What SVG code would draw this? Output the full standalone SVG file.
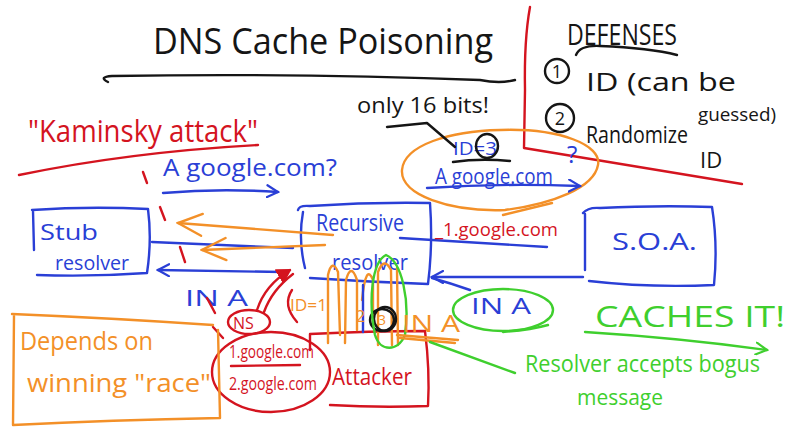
<svg xmlns="http://www.w3.org/2000/svg" width="800" height="430" viewBox="0 0 800 430">
<style>
  .s{fill:none;stroke-width:2.4;stroke-linecap:round;stroke-linejoin:round}
  .b{stroke:#2a3fd6}.r{stroke:#d4141f}.o{stroke:#f39028}.g{stroke:#3fcf2e}.k{stroke:#151515}
  text{font-family:"Open Sans","Liberation Sans",sans-serif;font-weight:400}
  .tb{fill:#2a3fd6}.tr{fill:#d4141f}.to{fill:#f39028}.tg{fill:#3fcf2e}.tk{fill:#151515}
</style>
<defs>
  <marker id="mb" viewBox="0 0 14 14" refX="12" refY="7" markerWidth="14" markerHeight="14" markerUnits="userSpaceOnUse" orient="auto"><path d="M1,1 L12,7 L1,13" fill="none" stroke="#2a3fd6" stroke-width="2.2" stroke-linecap="round"/></marker>
  <marker id="mo" viewBox="0 0 30 30" refX="28" refY="15" markerWidth="30" markerHeight="30" markerUnits="userSpaceOnUse" orient="auto"><path d="M4,4 L28,15 L4,26" fill="none" stroke="#f39028" stroke-width="2.4" stroke-linecap="round"/></marker>
  <marker id="mg" viewBox="0 0 14 14" refX="12" refY="7" markerWidth="14" markerHeight="14" markerUnits="userSpaceOnUse" orient="auto"><path d="M1,1 L12,7 L1,13" fill="none" stroke="#3fcf2e" stroke-width="2.2" stroke-linecap="round"/></marker>
  <marker id="mr" viewBox="0 0 16 16" refX="13" refY="8" markerWidth="16" markerHeight="16" markerUnits="userSpaceOnUse" orient="auto"><path d="M1,1 L13,8 L1,15 Z" fill="#d4141f" stroke="#d4141f" stroke-width="2" stroke-linejoin="round"/></marker>
</defs>
<rect width="800" height="430" fill="#ffffff"/>

<g id="title">
  <text x="153" y="54" font-size="36" textLength="340" lengthAdjust="spacingAndGlyphs" class="tk">DNS Cache Poisoning</text>
  <path class="s k" d="M108,82 Q98,77 112,76 Q300,73 480,80 Q500,84 515,80"/>
</g>

<g id="divider">
  <path class="s r" d="M530,7 Q524,40 525,90 L524,148 L742,184"/>
</g>

<g id="defenses">
  <text x="567" y="45" font-size="30" textLength="110" lengthAdjust="spacingAndGlyphs" class="tk">DEFENSES</text>
  <path class="s k" d="M576,55 Q580,45 600,46 Q650,48 677,55"/>
  <circle class="s k" cx="557" cy="71" r="12"/>
  <text x="557" y="78" font-size="18" text-anchor="middle" class="tk">1</text>
  <text x="586" y="91" font-size="25" textLength="150" lengthAdjust="spacingAndGlyphs" class="tk">ID (can be</text>
  <text x="698" y="121" font-size="18" textLength="78" lengthAdjust="spacingAndGlyphs" class="tk">guessed)</text>
  <circle class="s k" cx="560" cy="118" r="14"/>
  <text x="560" y="125" font-size="18" text-anchor="middle" class="tk">2</text>
  <text x="586" y="143" font-size="24" textLength="102" lengthAdjust="spacingAndGlyphs" class="tk">Randomize</text>
  <text x="700" y="168" font-size="22" class="tk">ID</text>
</g>

<g id="kaminsky">
  <text x="28" y="142" font-size="31" textLength="230" lengthAdjust="spacingAndGlyphs" class="tr">"Kaminsky attack"</text>
  <path class="s r" d="M19,175 Q130,152 258,145"/>
</g>

<g id="query-label">
  <path class="s r" d="M143,172 L147,183"/>
  <text x="163" y="176" font-size="24" textLength="174" lengthAdjust="spacingAndGlyphs" class="tb">A google.com?</text>
</g>

<g id="id-note">
  <text x="357" y="113" font-size="22" textLength="132" lengthAdjust="spacingAndGlyphs" class="tk">only 16 bits!</text>
  <path class="s o" d="M500,130 C560,128 602,145 598,165 C594,188 552,204 505,210 C450,212 400,195 402,170 C404,145 450,131 500,130 Z"/>
  <path class="s o" d="M503,215 L552,203"/>
  <text x="453" y="155" font-size="19" textLength="44" lengthAdjust="spacingAndGlyphs" class="tb">ID=3</text>
  <ellipse class="s k" cx="487" cy="146" rx="11" ry="12"/>
  <path class="s k" d="M453,162 Q480,158 510,161"/>
  <text x="435" y="184" font-size="21" textLength="118" lengthAdjust="spacingAndGlyphs" class="tb">A google.com</text>
  <text x="567" y="163" font-size="24" class="tb">?</text>
</g>

<g id="stub">
  <path class="s b" d="M32,210 Q90,206 148,209 Q152,240 147,273 Q90,277 37,275 M33,211 L34,250"/>
  <text x="40" y="240" font-size="22" textLength="58" lengthAdjust="spacingAndGlyphs" class="tb">Stub</text>
  <text x="55" y="270" font-size="20" textLength="74" lengthAdjust="spacingAndGlyphs" class="tb">resolver</text>
</g>

<g id="recursive">
  <path class="s b" d="M298,210 Q299,205 310,206 Q370,202 430,203 Q433,245 428,284 Q370,282 310,278 M303,212 Q298,240 305,268"/>
  <text x="316" y="231" font-size="24" textLength="88" lengthAdjust="spacingAndGlyphs" class="tb">Recursive</text>
  <text x="332" y="270" font-size="22" textLength="76" lengthAdjust="spacingAndGlyphs" class="tb">resolver</text>
</g>

<g id="soa">
  <path class="s b" d="M583,213 Q588,207 600,208 Q660,205 712,207 Q718,245 714,285 Q650,288 589,281 M585,214 L585,270"/>
  <text x="612" y="250" font-size="24" textLength="85" lengthAdjust="spacingAndGlyphs" class="tb">S.O.A.</text>
</g>

<g id="ns-records">
  <ellipse class="s r" cx="249" cy="322" rx="21" ry="12"/>
  <text x="233" y="329" font-size="16" class="tr">NS</text>
  <path class="s r" d="M213,327 L223,338"/>
  <ellipse class="s r" cx="271" cy="372" rx="59" ry="40"/>
  <text x="229" y="358" font-size="18" textLength="85" lengthAdjust="spacingAndGlyphs" class="tr">1.google.com</text>
  <path class="s r" d="M231,366 L300,365"/>
  <text x="229" y="390" font-size="18" textLength="88" lengthAdjust="spacingAndGlyphs" class="tr">2.google.com</text>
</g>

<g id="attacker">
  <path class="s r" d="M310,350 L310,334 Q370,331 425,331 Q430,370 428,406 Q380,408 330,405"/>
  <text x="332" y="385" font-size="24" textLength="80" lengthAdjust="spacingAndGlyphs" class="tr">Attacker</text>
</g>

<g id="race-note">
  <path class="s o" d="M12,314 Q110,318 213,325 M14,316 L13,425 Q110,420 220,418 L218,330"/>
  <text x="20" y="350" font-size="26" textLength="133" lengthAdjust="spacingAndGlyphs" class="to">Depends on</text>
  <text x="27" y="392" font-size="26" textLength="184" lengthAdjust="spacingAndGlyphs" class="to">winning "race"</text>
</g>

<g id="caches">
  <text x="595" y="327" font-size="30" textLength="190" lengthAdjust="spacingAndGlyphs" class="tg">CACHES IT!</text>
  <text x="525" y="372" font-size="24" textLength="235" lengthAdjust="spacingAndGlyphs" class="tg">Resolver accepts bogus</text>
  <text x="577" y="405" font-size="22" textLength="86" lengthAdjust="spacingAndGlyphs" class="tg">message</text>
</g>

<g id="connectors">
  <path class="s b" d="M163,193 Q220,188 278,192" marker-end="url(#mb)"/>
  <path class="s b" d="M427,188 Q500,183 580,186" marker-end="url(#mb)"/>
  <path class="s b" d="M152,242 L293,248"/>
  <path class="s b" d="M282,272 L158,270" marker-end="url(#mb)"/>
  <path class="s o" d="M333,235 L178,223" marker-end="url(#mo)"/>
  <path class="s o" d="M325,245 L202,250" marker-end="url(#mo)"/>
  <path class="s r" d="M160,207 L165,220 M180,247 L185,262"/>
  <path class="s b" d="M400,238 L547,247"/>
  <text x="435" y="236" font-size="19" textLength="123" lengthAdjust="spacingAndGlyphs" class="tr">_1.google.com</text>
  <path class="s b" d="M583,277 L432,277" marker-end="url(#mb)"/>
  <path class="s b" d="M432,278 Q450,283 470,290"/>
  <path class="s k" d="M387,127 L427,123 L455,147"/>
  <path class="s r" d="M257,310 Q265,285 290,270" marker-end="url(#mr)"/>
  <path class="s r" d="M264,312 Q272,290 293,274"/>
  <path class="s r" d="M292,290 Q282,305 297,322"/>
  <text x="185" y="306" font-size="22" textLength="63" lengthAdjust="spacingAndGlyphs" class="tb">IN A</text>
  <path class="s r" d="M207,298 L215,313"/>
  <path class="s o" d="M328,343 L328,275 Q332,258 338,272 L340,335"/>
  <path class="s o" d="M345,343 L346,280 Q351,262 357,280 L357,330"/>
  <path class="s o" d="M362,300 Q366,262 373,280 L373,322"/>
  <path class="s o" d="M378,345 L378,272 Q384,256 391,270 L392,345"/>
  <path class="s o" d="M398,345 L397,268"/>
  <path class="s b" d="M363,285 L363,332"/>
  <text x="290" y="311" font-size="16" textLength="37" lengthAdjust="spacingAndGlyphs" class="to">ID=1</text>
  <text x="356" y="322" font-size="16" class="to">2</text>
  <ellipse class="s k" cx="382" cy="320" rx="12" ry="11"/>
  <ellipse class="s k" cx="385" cy="319" rx="11" ry="12"/>
  <text x="378" y="325" font-size="14" class="to">3</text>
  <path class="s g" d="M386,255 C372,262 368,300 375,335 C380,352 398,352 405,335 C410,300 402,262 386,255 Z"/>
  <text x="402" y="332" font-size="24" textLength="58" lengthAdjust="spacingAndGlyphs" class="to">IN A</text>
  <path class="s o" d="M397,335 L458,340 M400,338 L455,343" stroke-width="3"/>
  <ellipse class="s g" cx="503" cy="310" rx="50" ry="21"/>
  <path class="s g" d="M503,332 Q530,330 548,325"/>
  <text x="471" y="314" font-size="22" textLength="60" lengthAdjust="spacingAndGlyphs" class="tb">IN A</text>
  <path class="s g" d="M430,342 L515,373"/>
  <path class="s g" d="M585,332 Q680,338 767,350" marker-end="url(#mg)"/>
</g>
</svg>
